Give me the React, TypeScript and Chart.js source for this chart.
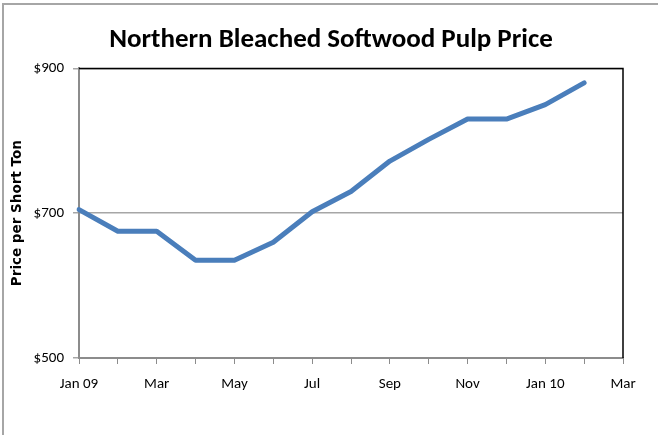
import React, { useEffect, useRef } from "react";
import { Chart, registerables } from "chart.js";

Chart.register(...registerables);

const months = ["Jan 09", "Feb", "Mar", "Apr", "May", "Jun", "Jul", "Aug", "Sep", "Oct", "Nov", "Dec", "Jan 10", "Feb", "Mar"];
const prices: (number | null)[] = [705, 675, 675, 635, 635, 660, 702, 730, 772, 802, 830, 830, 850, 880, null];
const yTicks = [500, 700, 900];
const chartTitle = "Northern Bleached Softwood Pulp Price";
const yTitle = "Price per Short Ton";

const NARROW = "'Liberation Sans Narrow', Carlito, 'Open Sans', sans-serif";

const framePlugin = {
  id: "frame",
  beforeDraw(chart: any) {
    const ctx = chart.ctx;
    ctx.save();
    ctx.fillStyle = "#ffffff";
    ctx.fillRect(0, 0, chart.width, chart.height);
    ctx.strokeStyle = "#a6a6a6";
    ctx.lineWidth = 2;
    ctx.beginPath();
    ctx.moveTo(3, chart.height + 5);
    ctx.lineTo(3, 4);
    ctx.lineTo(chart.width + 5, 4);
    ctx.stroke();
    ctx.restore();
  },
  afterDatasetsDraw(chart: any) {
    const { ctx, chartArea } = chart;
    ctx.save();
    ctx.strokeStyle = "#000000";
    ctx.lineWidth = 1.5;
    ctx.beginPath();
    ctx.moveTo(chartArea.left, chartArea.top);
    ctx.lineTo(chartArea.right, chartArea.top);
    ctx.lineTo(chartArea.right, chartArea.bottom);
    ctx.stroke();
    ctx.restore();
  },
};

export default function App() {
  const ref = useRef<HTMLCanvasElement | null>(null);
  useEffect(() => {
    document.body.style.margin = "0";
    const canvas = ref.current!;
    const chart = new Chart(canvas, {
      type: "line",
      data: {
        labels: months,
        datasets: [
          {
            data: prices,
            borderColor: "#4a7ebb",
            borderWidth: 5,
            pointRadius: 0,
            borderCapStyle: "round",
            borderJoinStyle: "round",
            tension: 0,
            spanGaps: false,
            yAxisID: "y",
          },
        ],
      },
      options: {
        animation: false,
        responsive: false,
        maintainAspectRatio: false,
        layout: { padding: { left: 4, right: 0, top: 0, bottom: 0 } },
        plugins: {
          legend: { display: false },
          tooltip: { enabled: false },
          title: {
            display: true,
            text: chartTitle,
            color: "#000000",
            font: { family: NARROW, size: 27, weight: "bold", lineHeight: 1.2 },
            padding: { top: 24, bottom: 12 },
          },
        },
        scales: {
          x: {
            type: "category",
            offset: false,
            grid: { drawOnChartArea: false, drawTicks: true, tickLength: 6, color: "#8c8c8c", lineWidth: 1 },
            border: { color: "#8c8c8c", width: 2 },
            ticks: {
              autoSkip: false,
              maxRotation: 0,
              padding: 11,
              color: "#000000",
              font: { family: NARROW, size: 15 },
              callback: (_v: any, i: number) => (i % 2 === 0 ? months[i] : ""),
            },
            afterFit: (s: any) => {
              s.height = 77;
            },
          },
          y: {
            position: "left",
            min: 500,
            max: 900,
            afterBuildTicks: (s: any) => {
              s.ticks = yTicks.map((v) => ({ value: v }));
            },
            grid: { color: "#a6a6a6", lineWidth: 1.5, tickLength: 6, drawTicks: true },
            border: { color: "#8c8c8c", width: 2 },
            ticks: {
              padding: 9,
              color: "#000000",
              font: { family: NARROW, size: 15 },
              callback: (v: any) => "$" + v,
            },
            title: {
              display: true,
              text: yTitle,
              color: "#000000",
              font: { family: "'DejaVu Sans', sans-serif", size: 13.5, weight: "bold" },
              padding: { top: 5, bottom: 0 },
            },
            afterFit: (s: any) => {
              s.width = 75;
            },
          },
          yR: {
            position: "right",
            display: true,
            grid: { display: false, drawTicks: false },
            border: { display: false },
            ticks: { display: false },
            afterFit: (s: any) => {
              s.width = 35;
            },
          },
        },
      } as any,
      plugins: [framePlugin],
    });
    return () => chart.destroy();
  }, []);
  return (
    <div style={{ position: "relative", width: 658, height: 435 }}>
      <canvas ref={ref} width={658} height={435} style={{ display: "block", width: 658, height: 435 }} />
    </div>
  );
}
